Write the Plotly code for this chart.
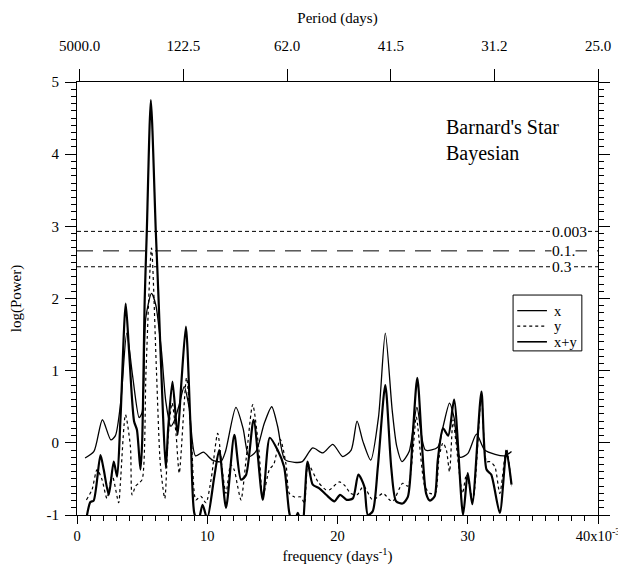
import numpy as np
import plotly.graph_objects as go

# Barnard's Star - Bayesian periodogram (log power vs frequency)
# frequencies in units of 1e-3 days^-1

# "x" series (thin solid)
FREQ_X = [0.62, 1.3, 1.95, 2.6, 2.95, 3.36, 3.82, 4.26, 4.77, 5.0, 5.28, 5.72, 6.05,
          6.49, 6.82, 7.2, 7.46, 7.85, 8.23, 8.6, 9.1, 9.7, 10.4, 11.05, 11.4, 12.2,
          12.75, 13.2, 13.74, 14.38, 14.95, 15.4, 15.95, 16.7, 17.3, 18.1, 18.87,
          19.64, 20.4, 21.05, 21.5, 21.95, 22.55, 23.15, 23.67, 24.2, 24.55, 24.95,
          25.5, 26.1, 26.75, 27.7, 28.1, 28.6, 28.95, 29.4, 30.0, 30.67, 31.3, 32.1,
          32.85, 33.36]
POWER_X = [-0.21, -0.12, 0.32, 0.04, 0.1, 0.57, 1.52, 0.94, 0.35, 0.42, 1.73, 2.07, 1.91,
           1.26, 0.57, 0.23, 0.3, 0.53, 0.78, 0.5, -0.18, -0.13, -0.24, -0.26, -0.12, 0.49,
           0.2, -0.19, -0.12, 0.27, 0.5, 0.23, -0.23, -0.27, -0.26, -0.07, -0.14,
           -0.02, -0.19, -0.1, 0.3, 0.02, -0.24, 0.36, 1.52, 0.45, -0.05, -0.26,
           -0.12, 0.49, -0.1, -0.06, 0.22, 0.55, 0.35, -0.2, -0.15, 0.12, -0.1, -0.16,
           -0.18, -0.12]

# "y" series (dashed)
FREQ_Y = [0.72, 1.15, 1.54, 1.92, 2.3, 2.7, 3.2, 3.33, 3.72, 4.1, 4.23, 4.5, 4.74, 5.0,
          5.3, 5.72, 6.1, 6.4, 6.74, 7.0, 7.3, 7.6, 7.85, 8.41, 8.8, 9.13, 9.5, 9.9,
          10.3, 10.8, 11.18, 11.44, 11.8, 12.08, 12.33, 12.59, 13.0, 13.49, 13.97,
          14.26, 14.77, 15.1, 15.6, 16.05, 16.3, 16.7, 17.2, 17.46, 17.75, 18.5, 19.1,
          19.4, 20.15, 20.6, 21.0, 21.5, 22.0, 22.7, 23.5, 24.0, 24.26, 25.0, 25.4,
          25.8, 26.05, 26.7, 27.1, 27.5, 27.8, 28.1, 28.36, 28.6, 28.87, 29.1, 29.6,
          29.9, 30.4, 31.05, 31.44, 31.7, 32.08, 32.46, 32.97, 33.36]
POWER_Y = [-0.79, -0.65, -0.37, -0.51, -0.77, -0.45, -0.83, -0.56, 0.39, -0.05, -0.72,
           -0.6, -0.56, -0.51, 1.0, 2.7, 1.0, -0.3, -0.77, 0.1, 0.55, 0.13, -0.42, 0.9,
           0.0, -0.79, -0.74, -0.83, -0.5, 0.13, -0.42, -0.7, -0.3, -0.38, -0.6, -0.79,
           -0.2, 0.53, -0.1, -0.75, -0.37, -0.3, 0.05, -0.3, -0.7, -0.75, -0.75, -0.84,
           -0.3, -0.54, -0.65, -0.65, -0.54, -0.6, -0.7, -0.72, -0.6, -0.79, -0.7,
           -0.79, -0.81, -0.56, -0.6, -0.1, 0.36, -0.6, -0.7, -0.7, -0.2, 0.0, -0.1,
           -0.4, 0.32, 0.0, -0.7, -0.44, -0.79, 0.66, -0.26, -0.26, -0.33, -0.7, -0.08,
           -0.6]

# "x+y" series (thick solid)
FREQ_XY = [0.72, 1.03, 1.28, 1.8, 2.05, 2.44, 2.82, 3.08, 3.33, 3.74, 4.0, 4.38, 4.6,
           4.87, 5.0, 5.2, 5.36, 5.67, 6.05, 6.26, 6.6, 6.82, 7.0, 7.33, 7.72, 8.0,
           8.36, 8.7, 9.0, 9.3, 9.64, 10.0, 10.54, 10.92, 11.44, 12.08, 12.59, 12.97,
           13.56, 14.26, 14.8, 15.4, 15.9, 16.3, 16.6, 16.95, 17.3, 17.7, 18.1, 18.6,
           19.13, 19.77, 20.2, 20.7, 21.18, 21.6, 22.05, 22.33, 22.7, 23.1, 23.67,
           24.13, 24.5, 25.0, 25.4, 25.8, 26.13, 26.8, 27.1, 27.46, 27.7, 28.1, 28.5,
           28.95, 29.64, 30.0, 30.35, 31.05, 31.44, 31.8, 32.46, 32.97, 33.36]
POWER_XY = [-1.05, -0.82, -0.8, -0.17, -0.37, -0.72, -0.26, -0.47, 0.3, 1.93, 1.26, 0.3,
            0.18, -0.37, 0.0, 2.0, 2.93, 4.75, 2.93, 2.0, 0.4, -0.35, 0.2, 0.85, 0.11,
            0.8, 1.61, 0.3, -0.97, -1.1, -0.86, -1.05, -0.47, -0.1, -0.9, 0.11, -0.51,
            -0.45, 0.32, -0.79, 0.07, -0.1, -0.33, -0.97, -1.15, -0.97, -1.15, -0.26,
            -0.58, -0.63, -0.72, -0.81, -0.72, -0.79, -0.77, -0.44, -0.6, -1.0, -0.95,
            -0.33, 0.8, -0.35, -0.81, -0.84, -0.75, 0.18, 0.9, -0.7, -0.8, -0.74, -0.24,
            0.2, 0.1, 0.6, -1.0, -0.42, -0.85, 0.71, -0.37, -0.44, -0.97, -0.12, -0.58]

# false alarm probability levels
FAP_LEVELS = [2.93, 2.66, 2.44]
FAP_LABELS = ["0.003", "0.1.", "0.3"]
FAP_DASH = ["4px,3px", "16px,10px", "4px,3px"]

PERIOD_TICKS = [5000.0, 122.5, 62.0, 41.5, 31.2, 25.0]
FREQ_TICKS = [0, 10, 20, 30, 40]
POWER_TICKS = [-1, 0, 1, 2, 3, 4, 5]

FONT = "Liberation Serif"

fig = go.Figure()

series = [
    ("x", FREQ_X, POWER_X, dict(color="black", width=1.3)),
    ("y", FREQ_Y, POWER_Y, dict(color="black", width=1.2, dash="3px,3px")),
    ("x+y", FREQ_XY, POWER_XY, dict(color="black", width=2.2)),
]
for name, f, p, line in series:
    fig.add_trace(go.Scatter(
        x=np.array(f) * 1e-3, y=p, name=name, mode="lines", showlegend=False,
        line=dict(shape="spline", smoothing=0.7, **line),
    ))

# empty trace so the top (period) axis and the right-hand axis get drawn
fig.add_trace(go.Scatter(x=[], y=[], xaxis="x2", yaxis="y2",
                         showlegend=False, hoverinfo="skip"))

for lvl, lab, dash in zip(FAP_LEVELS, FAP_LABELS, FAP_DASH):
    fig.add_shape(type="line", xref="paper", x0=0, x1=1, yref="y", y0=lvl, y1=lvl,
                  line=dict(color="black", width=1, dash=dash))
    fig.add_annotation(x=0.0364, y=lvl, xref="x", yref="y", text=lab, showarrow=False,
                       xanchor="left", yanchor="middle", bgcolor="white", borderpad=0,
                       font=dict(size=15.5, color="black", family=FONT))

fig.add_annotation(x=0.704, y=0.926, xref="paper", yref="paper",
                   text="Barnard's Star<br>Bayesian", showarrow=False, align="left",
                   xanchor="left", yanchor="top",
                   font=dict(size=20, color="black", family=FONT))

# legend box drawn by hand (Igor style, tight rows)
fig.add_shape(type="rect", xref="paper", yref="paper", x0=0.837, x1=0.969,
              y0=0.379, y1=0.508, line=dict(color="black", width=1),
              fillcolor="white", layer="above")
legend_rows = [0.472, 0.436, 0.400]
for (name, _, _, line), yrow in zip(series, legend_rows):
    fig.add_shape(type="line", xref="paper", yref="paper", x0=0.845, x1=0.902,
                  y0=yrow, y1=yrow, layer="above",
                  line=dict(color="black", width=min(line["width"], 1.6),
                            dash=line.get("dash", "solid")))
    fig.add_annotation(x=0.912, y=yrow, xref="paper", yref="paper", text=name,
                       showarrow=False, xanchor="left", yanchor="middle",
                       font=dict(size=14.5, color="black", family=FONT))

tick_font = dict(size=15, color="black", family=FONT)
title_font = dict(size=15, color="black", family=FONT)
yaxis_common = dict(
    range=[-1, 5], showgrid=False, zeroline=False, automargin=False,
    showline=True, linecolor="black", linewidth=1,
    ticks="outside", ticklen=11, tickcolor="black",
    tickvals=POWER_TICKS,
    minor=dict(dtick=0.1, ticks="outside", ticklen=5, tickcolor="black"),
)
fig.update_layout(
    width=618, height=565,
    margin=dict(l=69, r=28, t=74, b=58),
    paper_bgcolor="white", plot_bgcolor="white",
    font=dict(family=FONT, color="black"),
    showlegend=False,
    xaxis=dict(
        range=[0, 0.04], showgrid=False, zeroline=False, automargin=False,
        showline=True, linecolor="black", linewidth=1,
        ticks="outside", ticklen=8, tickcolor="black",
        tickvals=[v * 1e-3 for v in FREQ_TICKS],
        ticktext=["0", "10", "20", "30", "40x10<sup>-3</sup>"],
        tickfont=dict(size=14.5, color="black", family=FONT),
        minor=dict(dtick=0.001, ticks="outside", ticklen=5, tickcolor="black"),
        title=dict(text="frequency (days<sup>-1</sup>)", font=title_font, standoff=7),
    ),
    xaxis2=dict(
        overlaying="x", side="top", anchor="y", range=[0, 0.04], showgrid=False,
        zeroline=False, automargin=False,
        showline=True, linecolor="black", linewidth=1,
        ticks="outside", ticklen=12, tickcolor="black",
        tickvals=[1 / p for p in PERIOD_TICKS],
        ticktext=[f"{p:.1f}" for p in PERIOD_TICKS],
        tickfont=tick_font, ticklabelstandoff=12,
        title=dict(text="Period (days)", font=title_font, standoff=10),
    ),
    yaxis=dict(
        **yaxis_common,
        ticktext=[str(v) for v in POWER_TICKS],
        tickfont=tick_font, ticklabelstandoff=3,
        title=dict(text="log(Power)", font=title_font, standoff=24),
    ),
    yaxis2=dict(
        **yaxis_common,
        overlaying="y", side="right", anchor="x", showticklabels=False,
    ),
)

fig.write_html("out.html")
